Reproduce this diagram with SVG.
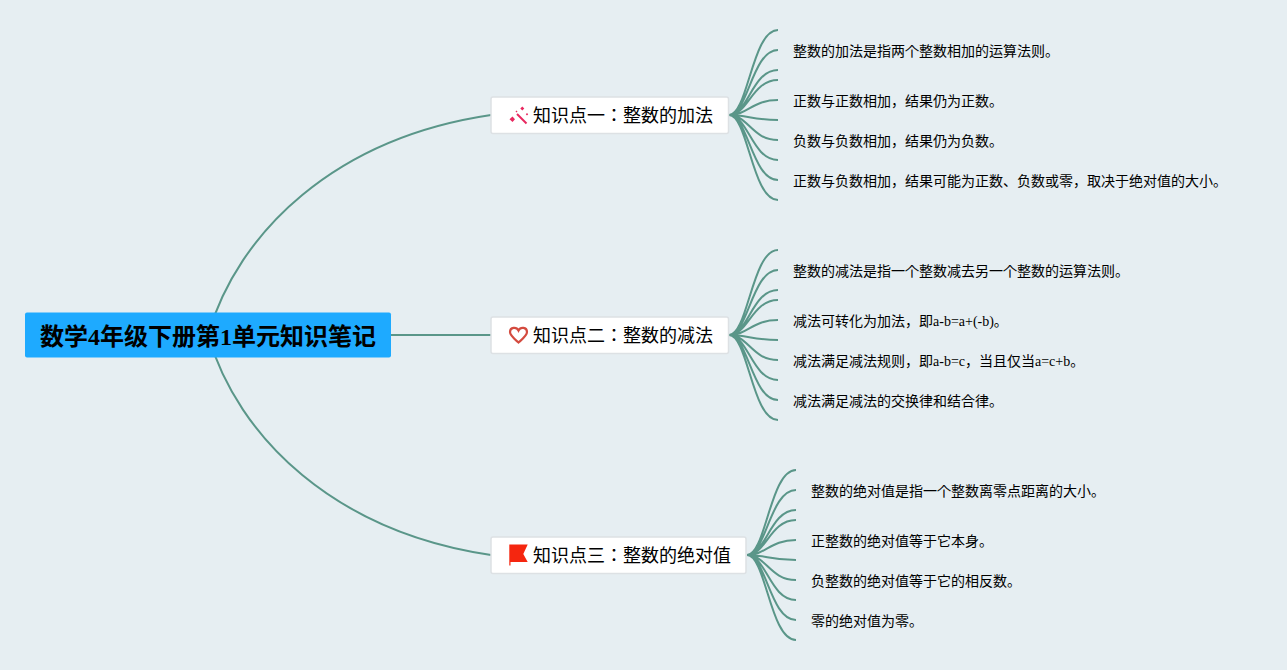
<svg xmlns="http://www.w3.org/2000/svg" width="1287" height="670" viewBox="0 0 1287 670">
<style>
.bg{fill:#e6eef2}
.c{fill:none;stroke:#5a9689;stroke-width:2}
.t{fill:#fff;stroke:#dde1e4;stroke-width:1.5}
text{font-family:"Liberation Serif","Noto Sans CJK JP",serif;fill:#000}
.l{font-size:14px}
.m{font-size:18px}
.r{font-size:24px;font-weight:bold}
</style>
<rect class="bg" width="1287" height="670"/>
<g id="connectors">
<path class="c" d="M208 335C238 232 335 138 491 115"/>
<path class="c" d="M391 335H491"/>
<path class="c" d="M208 335C238 438 335 532 491 555"/>
<path class="c" d="M729 115C748 115 752 30 778 30M729 115C748 115 752 50 778 50M729 115C748 115 752 70 778 70M729 115C748 115 752 80 778 80M729 115C748 115 752 100 778 100M729 115C748 115 752 120 778 120M729 115C748 115 752 140 778 140M729 115C748 115 752 160 778 160M729 115C748 115 752 180 778 180M729 115C748 115 752 200 778 200"/>
<path class="c" d="M729 335C748 335 752 250 778 250M729 335C748 335 752 270 778 270M729 335C748 335 752 290 778 290M729 335C748 335 752 300 778 300M729 335C748 335 752 320 778 320M729 335C748 335 752 340 778 340M729 335C748 335 752 360 778 360M729 335C748 335 752 380 778 380M729 335C748 335 752 400 778 400M729 335C748 335 752 420 778 420"/>
<path class="c" d="M747 555C766 555 770 470 796 470M747 555C766 555 770 490 796 490M747 555C766 555 770 510 796 510M747 555C766 555 770 520 796 520M747 555C766 555 770 540 796 540M747 555C766 555 770 560 796 560M747 555C766 555 770 580 796 580M747 555C766 555 770 600 796 600M747 555C766 555 770 620 796 620M747 555C766 555 770 640 796 640"/>
</g>
<g id="root">
<rect x="25" y="312.500" width="366" height="45" rx="2" fill="#1eaaff"/>
<text class="r" x="40" y="345">数学4年级下册第1单元知识笔记</text>
</g>
<g id="topic1">
<rect class="t" x="491" y="97" width="237.500" height="36.500" rx="2"/>
<path d="M517 114L526.500 123.500" stroke="#e8285f" stroke-width="2" fill="none"/>
<path d="M512.500 116.500l2.500 2.800-2.500 2.800-3-2.800zM522.300 106.500l2 2-2 2-2-2zM527 113l1.200 1.200-1.200 1.200-1.200-1.200zM516.500 110.500l1 1-1 1-1-1z" fill="#e8285f"/>
<text class="m" x="533" y="122">知识点一：整数的加法</text>
</g>
<g id="topic2">
<rect class="t" x="491" y="317" width="237.500" height="36.500" rx="2"/>
<path d="M518.500 342.500C514 338.500 510 335.500 510 332C510 327 516.500 326.500 518.500 330.500C520.500 326.500 527 327 527 332C527 335.500 523 338.500 518.500 342.500Z" fill="none" stroke="#d44b3f" stroke-width="2.200"/>
<text class="m" x="533" y="342">知识点二：整数的减法</text>
</g>
<g id="topic3">
<rect class="t" x="491" y="537" width="255" height="36.500" rx="2"/>
<path d="M509.300 544.500H527.700L523.300 554L527.700 562H510.500V565.500H509.300Z" fill="#f5260f"/>
<text class="m" x="533" y="562">知识点三：整数的绝对值</text>
</g>
<g id="leaf1-1"><text class="l" x="793" y="56">整数的加法是指两个整数相加的运算法则。</text></g>
<g id="leaf1-2"><text class="l" x="793" y="106">正数与正数相加，结果仍为正数。</text></g>
<g id="leaf1-3"><text class="l" x="793" y="146">负数与负数相加，结果仍为负数。</text></g>
<g id="leaf1-4"><text class="l" x="793" y="186">正数与负数相加，结果可能为正数、负数或零，取决于绝对值的大小。</text></g>
<g id="leaf2-1"><text class="l" x="793" y="276">整数的减法是指一个整数减去另一个整数的运算法则。</text></g>
<g id="leaf2-2"><text class="l" x="793" y="326">减法可转化为加法，即a-b=a+(-b)。</text></g>
<g id="leaf2-3"><text class="l" x="793" y="366">减法满足减法规则，即a-b=c，当且仅当a=c+b。</text></g>
<g id="leaf2-4"><text class="l" x="793" y="406">减法满足减法的交换律和结合律。</text></g>
<g id="leaf3-1"><text class="l" x="811" y="496">整数的绝对值是指一个整数离零点距离的大小。</text></g>
<g id="leaf3-2"><text class="l" x="811" y="546">正整数的绝对值等于它本身。</text></g>
<g id="leaf3-3"><text class="l" x="811" y="586">负整数的绝对值等于它的相反数。</text></g>
<g id="leaf3-4"><text class="l" x="811" y="626">零的绝对值为零。</text></g>
</svg>
